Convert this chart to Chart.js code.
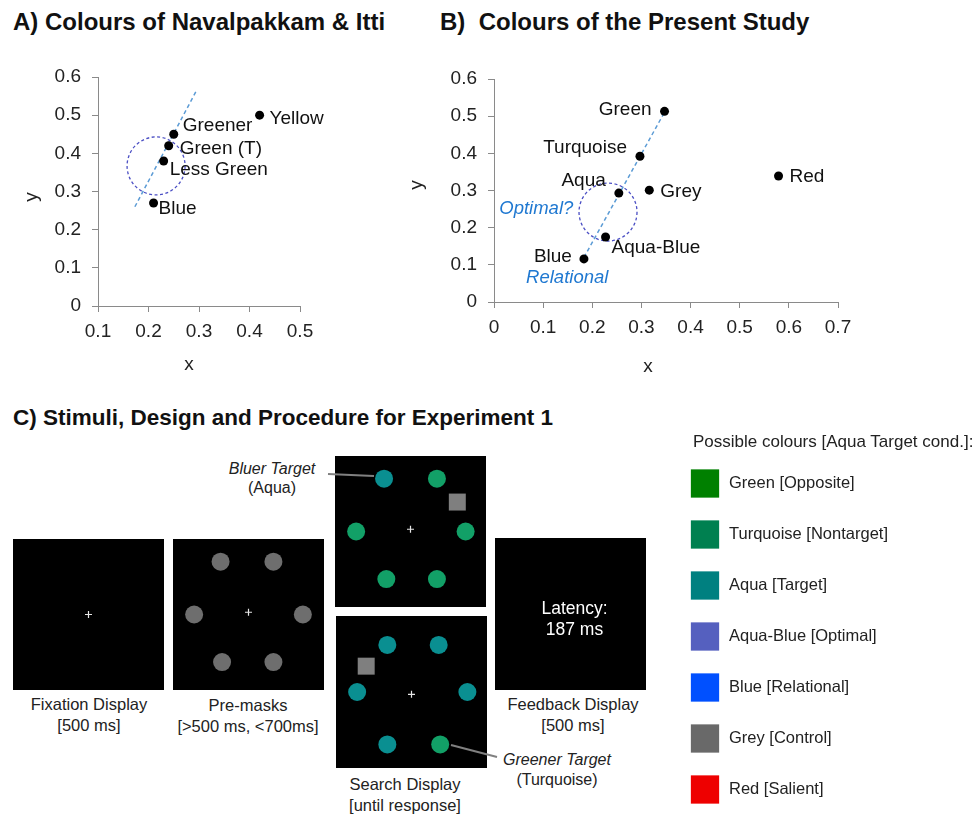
<!DOCTYPE html>
<html>
<head>
<meta charset="utf-8">
<script src="https://cdn.jsdelivr.net/npm/chart.js@4.4.0/dist/chart.umd.min.js"></script>
<style>
  body { margin: 0; background: #fff; font-family: 'Liberation Sans', Arial, sans-serif; }
  #page { position: relative; width: 975px; height: 814px; overflow: hidden; }
  .box { position: absolute; }
  .title { position: absolute; font-weight: bold; font-size: 24px; line-height: 26px; color: #111; white-space: pre; }
  .cap { position: absolute; font-size: 16.5px; line-height: 21px; color: #222; text-align: center; white-space: nowrap; transform: translateX(-50%); }
  .note { position: absolute; font-size: 16px; line-height: 19px; color: #222; text-align: center; white-space: nowrap; transform: translateX(-50%); }
</style>
</head>
<body>
<div id="page">
  <div class="title" style="left:13px;top:9px">A) Colours of Navalpakkam &amp; Itti</div>
  <div class="title" style="left:440px;top:9px">B)  Colours of the Present Study</div>
  <div class="title" style="left:13px;top:405px;font-size:22.5px">C) Stimuli, Design and Procedure for Experiment 1</div>

  <div class="box" style="left:0;top:40px;width:420px;height:340px"><canvas id="chartA"></canvas></div>
  <div class="box" style="left:400px;top:40px;width:460px;height:340px"><canvas id="chartB"></canvas></div>

  <div class="box" style="left:13px;top:539px;width:151px;height:151px"><canvas id="fixation"></canvas></div>
  <div class="box" style="left:173px;top:539px;width:151px;height:151px"><canvas id="premask"></canvas></div>
  <div class="box" style="left:335px;top:456px;width:151px;height:151px"><canvas id="searchA"></canvas></div>
  <div class="box" style="left:336px;top:616px;width:151px;height:152px"><canvas id="searchB"></canvas></div>
  <div class="box" style="left:495px;top:538px;width:151px;height:152px"><canvas id="feedback"></canvas></div>

  <div class="cap" style="left:89px;top:694px">Fixation Display<br>[500 ms]</div>
  <div class="cap" style="left:248px;top:695px">Pre-masks<br>[&gt;500 ms, &lt;700ms]</div>
  <div class="cap" style="left:405px;top:774px">Search Display<br>[until response]</div>
  <div class="cap" style="left:573px;top:694px">Feedback Display<br>[500 ms]</div>
  <div class="note" style="left:272px;top:459px"><i>Bluer Target</i><br>(Aqua)</div>
  <div class="note" style="left:557px;top:750px;line-height:20px"><i>Greener Target</i><br>(Turquoise)</div>

  <svg class="box" style="left:0;top:0" width="975" height="814">
    <line x1="328" y1="474" x2="374" y2="476" stroke="#808080" stroke-width="2"/>
    <line x1="451" y1="745" x2="497" y2="757" stroke="#808080" stroke-width="2"/>
  </svg>

  <div class="cap" style="left:693px;top:432px;transform:none;text-align:left;line-height:20px;font-size:17px">Possible colours [Aqua Target cond.]:</div>
  <div class="box" style="left:690px;top:458px;width:285px;height:357px"><canvas id="legend"></canvas></div>
</div>

<script>
const FONT = "'Liberation Sans', Arial, sans-serif";
Chart.defaults.font.family = FONT;
Chart.defaults.color = '#222';
Chart.defaults.animation = false;

// A) colours of Navalpakkam & Itti (CIE x, y)
const namesA = ['Greener', 'Green (T)', 'Less Green', 'Blue', 'Yellow'];
const xA = [0.25, 0.24, 0.23, 0.21, 0.42];
const yA = [0.45, 0.42, 0.38, 0.27, 0.50];
const lineAx = [0.173, 0.296];
const lineAy = [0.26, 0.567];
const optimalA = [0.215, 0.367];

// B) colours of the present study
const namesB = ['Green', 'Turquoise', 'Aqua', 'Grey', 'Red', 'Aqua-Blue', 'Blue'];
const xB = [0.347, 0.297, 0.254, 0.316, 0.579, 0.227, 0.183];
const yB = [0.513, 0.392, 0.293, 0.301, 0.339, 0.175, 0.116];
const lineBx = [0.183, 0.348];
const lineBy = [0.12, 0.513];
const optimalB = [0.232, 0.242];
const notesB = ['Optimal?', 'Relational'];
const notesBx = [0.086, 0.149];
const notesBy = [0.25, 0.065];

// label placement next to each point: [dx, dy, align]
const placeA = [[9, -8, 'left'], [11, 3, 'left'], [6, 9, 'left'], [5, 6, 'left'], [10, 4, 'left']];
const placeB = [[-13, -2, 'right'], [-13, -9, 'right'], [-13, -12, 'right'], [11, 2, 'left'],
  [11, 1, 'left'], [6, 11, 'left'], [-12, -2, 'right']];

// C) stimulus layouts, display units (-1..1, fixation at 0,0)
const fixCross = [0, 0];
const premaskX = [-0.37, 0.33, -0.72, 0.72, -0.35, 0.33];
const premaskY = [0.70, 0.70, 0.0, 0.0, -0.63, -0.63];
const premaskCross = [0, 0.03];
const searchAX = [-0.35, 0.35, -0.72, 0.73, -0.32, 0.35];
const searchAY = [0.70, 0.70, 0.0, 0.0, -0.63, -0.63];
const searchAColour = ['aqua', 'green', 'green', 'green', 'green', 'green'];
const searchASquare = [0.62, 0.39];
const searchACross = [0, 0.03];
const searchBX = [-0.32, 0.36, -0.72, 0.74, -0.32, 0.38];
const searchBY = [0.62, 0.62, 0.0, 0.0, -0.69, -0.69];
const searchBColour = ['aqua', 'aqua', 'aqua', 'aqua', 'aqua', 'green'];
const searchBSquare = [-0.60, 0.34];
const searchBCross = [0, -0.03];
const feedbackText = ['Latency:', '187 ms'];

const legendNames = ['Green [Opposite]', 'Turquoise [Nontarget]', 'Aqua [Target]', 'Aqua-Blue [Optimal]',
  'Blue [Relational]', 'Grey [Control]', 'Red [Salient]'];
const legendColours = ['#008000', '#008050', '#008080', '#5560bf', '#0050ff', '#696969', '#ee0000'];

const stimColour = { aqua: '#0a8f91', green: '#12a067', grey: '#6e6e6e' };
const AXIS = '#8a8a8a';

// dashed "optimal" circle, point names, italic notes and axis names
const ciePlugin = {
  id: 'cie',
  beforeDatasetsDraw(chart, args, o) {
    const { ctx, scales: { x, y } } = chart;
    ctx.save();
    ctx.strokeStyle = '#4b4fc4';
    ctx.lineWidth = 1.3;
    ctx.setLineDash([3, 2.5]);
    ctx.beginPath();
    ctx.arc(x.getPixelForValue(o.centre[0]), y.getPixelForValue(o.centre[1]), 29, 0, Math.PI * 2);
    ctx.stroke();
    ctx.restore();
  },
  afterDatasetsDraw(chart, args, o) {
    const { ctx, chartArea: ca, scales: { x, y } } = chart;
    ctx.save();
    ctx.textBaseline = 'middle';
    ctx.fillStyle = '#111';
    ctx.font = `19px ${FONT}`;
    o.names.forEach((n, i) => {
      const [dx, dy, al] = o.place[i];
      ctx.textAlign = al;
      ctx.fillText(n, x.getPixelForValue(o.xs[i]) + dx, y.getPixelForValue(o.ys[i]) + dy);
    });
    ctx.font = `italic 18.5px ${FONT}`;
    ctx.fillStyle = '#1f78d1';
    ctx.textAlign = 'center';
    (o.notes || []).forEach((n, i) => {
      ctx.fillText(n, x.getPixelForValue(o.notesX[i]), y.getPixelForValue(o.notesY[i]));
    });
    ctx.fillStyle = '#222';
    ctx.font = `19px ${FONT}`;
    ctx.fillText('x', ca.left + o.xTitle[0], ca.bottom + o.xTitle[1]);
    ctx.translate(o.yTitle[0], o.yTitle[1]);
    ctx.rotate(-Math.PI / 2);
    ctx.fillText('y', 0, 0);
    ctx.restore();
  },
};

function tickFmt(v) { return Math.abs(v) < 1e-9 ? '0' : v.toFixed(1); }

function makeScatter(id, d) {
  const pts = d.xs.map((v, i) => ({ x: v, y: d.ys[i] }));
  const line = d.lineX.map((v, i) => ({ x: v, y: d.lineY[i] }));
  return new Chart(document.getElementById(id), {
    type: 'scatter',
    data: {
      datasets: [
        { data: pts, backgroundColor: '#000', borderWidth: 0, pointRadius: 4.5, pointHoverRadius: 4.5 },
        { data: line, showLine: true, borderColor: '#5b9bd5', borderWidth: 1.5, borderDash: [4, 3], pointRadius: 0 },
      ],
    },
    options: {
      responsive: true,
      maintainAspectRatio: false,
      events: [],
      layout: { padding: d.padding, autoPadding: false },
      plugins: {
        legend: { display: false },
        tooltip: { enabled: false },
        cie: {
          names: d.names, place: d.place, xs: d.xs, ys: d.ys, centre: d.centre,
          notes: d.notes, notesX: d.notesX, notesY: d.notesY, xTitle: d.xTitle, yTitle: d.yTitle,
        },
      },
      scales: {
        x: {
          min: d.xMin, max: d.xMax,
          ticks: { stepSize: 0.1, padding: 8, color: '#222', font: { size: 19 }, callback: tickFmt, maxRotation: 0 },
          grid: { drawOnChartArea: false, drawTicks: true, tickLength: 6, color: AXIS },
          border: { color: AXIS },
          afterFit: (s) => { s.height = d.xAxisH; s.paddingLeft = 0; s.paddingRight = 0; },
        },
        y: {
          min: 0, max: 0.6,
          ticks: { stepSize: 0.1, padding: 11, color: '#222', font: { size: 19 }, callback: tickFmt },
          grid: { drawOnChartArea: false, drawTicks: true, tickLength: 6, color: AXIS },
          border: { color: AXIS },
          afterFit: (s) => { s.width = 80; s.paddingTop = 0; s.paddingBottom = 0; },
        },
      },
    },
    plugins: [ciePlugin],
  });
}

makeScatter('chartA', {
  names: namesA, place: placeA, xs: xA, ys: yA, lineX: lineAx, lineY: lineAy, centre: optimalA,
  xMin: 0.1, xMax: 0.5, xAxisH: 74,
  padding: { left: 18, right: 120, top: 37, bottom: 0 },
  xTitle: [91, 59], yTitle: [32, 157],
});

makeScatter('chartB', {
  names: namesB, place: placeB, xs: xB, ys: yB, lineX: lineBx, lineY: lineBy, centre: optimalB,
  notes: notesB, notesX: notesBx, notesY: notesBy,
  xMin: 0, xMax: 0.7, xAxisH: 78,
  padding: { left: 14, right: 22, top: 39, bottom: 0 },
  xTitle: [154, 65], yTitle: [17, 145],
});

// black search-display screens
const screenPlugin = {
  id: 'screen',
  beforeDatasetsDraw(chart, args, o) {
    const { ctx, chartArea: ca } = chart;
    ctx.save();
    ctx.fillStyle = '#000';
    ctx.fillRect(ca.left, ca.top, ca.right - ca.left, ca.bottom - ca.top);
    ctx.restore();
  },
  afterDatasetsDraw(chart, args, o) {
    if (!o.text) return;
    const { ctx, chartArea: ca } = chart;
    ctx.save();
    ctx.fillStyle = '#fff';
    ctx.font = `17.5px ${FONT}`;
    ctx.textAlign = 'center';
    ctx.textBaseline = 'middle';
    const cx = (ca.left + ca.right) / 2 + 4;
    const cy = (ca.top + ca.bottom) / 2 + 6;
    o.text.forEach((t, i) => ctx.fillText(t, cx, cy + (i - 0.5) * 21));
    ctx.restore();
  },
};

function makeDisplay(id, s) {
  const datasets = [];
  if (s.cross) {
    datasets.push({ data: [{ x: s.cross[0], y: s.cross[1] }], pointStyle: 'cross', pointRadius: 3.5,
      borderColor: '#e6e6e6', borderWidth: 1.2 });
  }
  if (s.xs) {
    datasets.push({ data: s.xs.map((v, i) => ({ x: v, y: s.ys[i] })), pointStyle: 'circle', pointRadius: 9,
      backgroundColor: s.colours.map((c) => stimColour[c]), borderWidth: 0 });
  }
  if (s.square) {
    datasets.push({ data: [{ x: s.square[0], y: s.square[1] }], pointStyle: 'rect', pointRadius: 12,
      backgroundColor: '#7f7f7f', borderWidth: 0 });
  }
  return new Chart(document.getElementById(id), {
    type: 'scatter',
    data: { datasets },
    options: {
      responsive: true,
      maintainAspectRatio: false,
      events: [],
      layout: { padding: 0, autoPadding: false },
      plugins: { legend: { display: false }, tooltip: { enabled: false }, screen: { text: s.text } },
      scales: {
        x: { display: false, min: -1, max: 1 },
        y: { display: false, min: -1, max: 1 },
      },
    },
    plugins: [screenPlugin],
  });
}

makeDisplay('fixation', { cross: fixCross });
makeDisplay('premask', { cross: premaskCross, xs: premaskX, ys: premaskY, colours: premaskX.map(() => 'grey') });
makeDisplay('searchA', { cross: searchACross, xs: searchAX, ys: searchAY, colours: searchAColour, square: searchASquare });
makeDisplay('searchB', { cross: searchBCross, xs: searchBX, ys: searchBY, colours: searchBColour, square: searchBSquare });
makeDisplay('feedback', { text: feedbackText });

// colour key
const keyPlugin = {
  id: 'key',
  afterDatasetsDraw(chart) {
    const { ctx } = chart;
    const meta = chart.getDatasetMeta(0);
    ctx.save();
    ctx.font = `16.5px ${FONT}`;
    ctx.fillStyle = '#222';
    ctx.textBaseline = 'middle';
    meta.data.forEach((p, i) => ctx.fillText(legendNames[i], p.x + 24, p.y));
    ctx.restore();
  },
};

new Chart(document.getElementById('legend'), {
  type: 'scatter',
  data: {
    datasets: [{
      data: legendNames.map((n, i) => ({ x: 0, y: i })),
      pointStyle: 'rect', pointRadius: 20, backgroundColor: legendColours, borderWidth: 0, clip: false,
    }],
  },
  options: {
    responsive: true,
    maintainAspectRatio: false,
    events: [],
    layout: { padding: { left: 15, right: 0, top: 0, bottom: 0 }, autoPadding: false },
    plugins: { legend: { display: false }, tooltip: { enabled: false } },
    scales: {
      x: { display: false, min: 0, max: 1 },
      y: { display: false, min: -0.5, max: 6.5, reverse: true },
    },
  },
  plugins: [keyPlugin],
});
</script>
</body>
</html>
